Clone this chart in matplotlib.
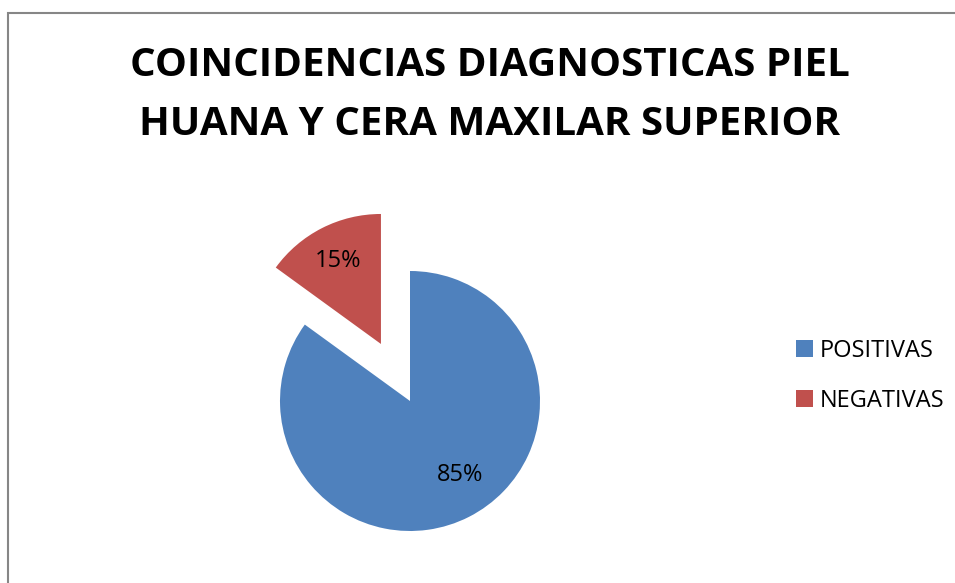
import matplotlib.pyplot as plt
from matplotlib.patches import Rectangle

# datos
categorias = ["POSITIVAS", "NEGATIVAS"]
valores = [85, 15]
colores = ["#4F81BD", "#C0504D"]
titulo = "COINCIDENCIAS DIAGNOSTICAS PIEL\nHUANA Y CERA MAXILAR SUPERIOR"

plt.rcParams['font.family'] = ['Open Sans', 'DejaVu Sans']

W, H = 955, 583
fig = plt.figure(figsize=(W / 100, H / 100), dpi=100)

# borde del grafico (se corta a la derecha y abajo)
fig.patches.append(Rectangle((8 / W, -0.1), 1.2, (H - 13) / H + 0.1,
                             transform=fig.transFigure, fill=False,
                             edgecolor="#868686", lw=1.5))

ax = fig.add_axes([0, 0, 1, 1])

# ejes en pixeles: explode va en unidades de datos
wedges, textos, pcts = ax.pie(valores, colors=colores, startangle=90,
                              counterclock=False, explode=[0, 64],
                              center=(410, H - 401), radius=130,
                              autopct="%1.0f%%", pctdistance=0.72,
                              wedgeprops={"linewidth": 0},
                              textprops={"fontsize": 17, "color": "black"},
                              frame=True)
ax.set_xlim(0, W)
ax.set_ylim(0, H)
ax.set_aspect("equal")
ax.axis("off")
# la etiqueta del 85% va un poco mas a la derecha, como en Excel
pcts[0].set_position((460, H - 475))

fig.text(490 / W, 1 - 95 / H, titulo, ha="center", va="center",
         fontsize=29, fontweight="bold", linespacing=1.68)

fig.legend(wedges, categorias, loc="center left",
           bbox_to_anchor=(775 / W, 1 - 376 / H), frameon=False,
           fontsize=17, handlelength=0.7, handleheight=0.7,
           handletextpad=0.3, labelspacing=1.1)

fig.savefig("out.png", dpi=100)
